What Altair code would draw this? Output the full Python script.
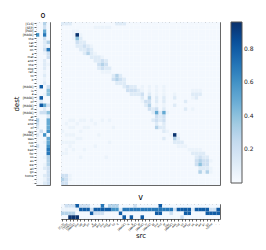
import altair as alt
import pandas as pd

tokens = ["[CLS]", "[SEP]", "[PAD]", "[MASK]", "the", "cat", "sat", "on", "a", "mat",
          "and", "the", "dog", "ran", "to", "it", ".", "[MASK]", "is", "a",
          "[MASK]", "of", "[MASK]", "in", "[MASK]", "at", "the", "end", "of", "day",
          "[MASK]", "was", "not", "so", "bad", "for", "us", "as", "we", "all",
          "go", "home", ".", "."]

# cell levels
level = {".": 0.02, "-": 0.06, "1": 0.12, "2": 0.2, "3": 0.3, "4": 0.4,
         "5": 0.5, "6": 0.6, "7": 0.7, "8": 0.8, "9": 0.95}

main_rows = [
    "111. .... .... ...1 11.. .... .... .... .... .... ....",
    ".... .... .--- --.. .... .... .... .... .... .... ....",
    "...- -... .... .... .... .... .... .... .... .... ....",
    "...- 9-.. .... .... .... .... .... .... .... .... ....",
    "...- 41.. .... .... .... .... .... .... .... .... ....",
    ".... 211. .... .... .... .... .... .... .... .... ....",
    ".... 1121 -... .... .... .... .... .... .... .... ....",
    ".... .112 1... .... .... .... .... .... .... .... ....",
    ".... ..13 1-.. .... .... .... .... .... .... .... ....",
    ".... .... 111- .... .... .... .... .... .... .... ....",
    ".... .... .112 1... .... .... .... .... .... .... ....",
    ".... .... ..23 2... .... .... .... .... .... .... ....",
    ".... .... ..12 11.. .... .... .... .... .... .... ....",
    ".... .... ...- --.. .... .... .... .... .... .... ....",
    ".... .... .... ..13 1... .... .... .... .... .... ....",
    ".... .... .... ..23 21.. .... .... .... .... .... ....",
    ".... .... .... ...1 11.. .... .... .... .... .... ....",
    ".... .... .... .... .121 1.-. -.-. -... .... .... ....",
    ".... .... .... .... ..22 21-. -.-. -... .... ---. ....",
    ".... .... .... .... ...1 112. 1.-. -..- .... 111. ....",
    ".... .... .... .... .... ..1. 3.1. 1..1 .... -1.. ....",
    ".... .... .... .... .... ..-2 2.1. 1... ..1. .... ....",
    ".... .... .... .... .... ...1 3.-. -..1 .... .... ....",
    ".... .... .... .... .... .... 212. 1... ..1. -... ....",
    ".... .... .... .... .... .... .151 5-.. .... .... ....",
    ".... .... .... .... .... .... ..21 2... .... .... ....",
    "..-- .--. -..- .-.. .... .... .121 2... .... .... ....",
    ".-.. -... .-.. .... .... .... ..1. 1... .... .... ....",
    "..-- ..-- .... ..-. .... .... ..31 1... .... .... ....",
    "-... .-.. .... .... .... .... .... 1-.. .... .... ....",
    ".--- .... ..-. .... .... .... .... ..-9 -... .... ....",
    ".... --.. .... .... .... .... .... 1..3 1... .... ....",
    "---- .... .... .-.. .... .... .... ...1 11.. .... ....",
    "..-. .... .-.. .... .... .... .... .... ---. .... ....",
    ".-.- ..-. .... .... .... .... .... .... ...- ---. ....",
    "--.. .... .... .... .... .... .... .... .... 1111 ....",
    ".... .-.. .... -... .... .... .... .... .... .121 1...",
    ".... .... .... .... .... .... .... .... .... .232 2-..",
    ".... .... .... .... .... .... .... .... .... .242 2...",
    ".... .... .... .... .... .... .... .... .... ..11 1-..",
    ".... .... .... .... .... .... .... .... .... ..3- 3-..",
    "22-. .... .... .... .... .... .... .... .... .... ....",
    "32-. .... .... .... .... .... .... .... .... .... ....",
    "22.. .... .... .... .... .... .... .... .... .... ....",
]

o_rows = ["..3.", "..2.", "..5.", "6.7.", "..2.", "..13", "..1-", "..27", "..-2", "...2",
          "..1.", "..1-", "..1.", "..-.", "..1.", "..-.", "..1.", ".8.2", "...4", "..-4",
          ".8..", ".1..", ".852", "..1.", ".224", "...1", "3..5", "2..5", "1..5", ".2.6",
          "1.6.", "...5", "..-5", "2..6", "...7", "...7", "..-3", "...3", "..-3", "..12",
          "...2", "..12", "..-2", "..12"]

v_rows = [
    ".222 8222 ...7 .333 .... 2... ...8 .... .... .... ....",
    "---- -888 2888 8866 1777 7777 7777 7772 8888 1888 8228",
    "3333 .... 8222 .... 8... .... ..88 ..2. ..88 .... 8888",
    "..99 9... .... .... .8.8 ..8. .... .... .2.. .... ....",
]

blues = ["#f7fbff", "#deebf7", "#c6dbef", "#9ecae1", "#6baed6",
         "#4292c6", "#2171b5", "#08519c", "#08306b"]
stops = [0.0, 0.12, 0.24, 0.36, 0.48, 0.6, 0.72, 0.84, 0.96]

main_df = pd.DataFrame([
    {"dest": r, "src": c, "w": level[ch]}
    for r, row in enumerate(main_rows)
    for c, ch in enumerate(row.replace(" ", ""))
])
o_df = pd.DataFrame([
    {"dest": r, "k": k, "w": level[ch]}
    for r, row in enumerate(o_rows)
    for k, ch in enumerate(row)
])
v_df = pd.DataFrame([
    {"k": k, "src": c, "w": level[ch]}
    for k, row in enumerate(v_rows)
    for c, ch in enumerate(row.replace(" ", ""))
])

tok_js = "[" + ",".join('"' + t + '"' for t in tokens) + "]"
label_expr = tok_js + "[datum.value]"

FONT = "DejaVu Sans"
color_scale = alt.Scale(domain=stops, range=blues)
legend = alt.Legend(title=None, values=[0.2, 0.4, 0.6, 0.8],
                    gradientLength=161, gradientThickness=11,
                    gradientStrokeColor="#555", gradientStrokeWidth=1,
                    labelFontSize=6, labelFont=FONT, labelColor="#222",
                    offset=10, orient="right")
color = alt.Color("w:Q", scale=color_scale, legend=legend)

main = alt.Chart(main_df).mark_rect().encode(
    x=alt.X("src:O", axis=None),
    y=alt.Y("dest:O", axis=None),
    color=color,
).properties(width=159, height=163)

o_chart = alt.Chart(o_df).mark_rect().encode(
    x=alt.X("k:O", axis=None),
    y=alt.Y("dest:O", axis=alt.Axis(title="dest", labelExpr=label_expr, labelFontSize=3,
                                    labelFont=FONT, tickSize=2, tickWidth=0.6, tickColor="#000",
                                    domain=False, labelPadding=1, titleFont=FONT,
                                    titleFontSize=7, titleFontWeight="normal",
                                    titlePadding=3, labelColor="#000")),
    color=color,
).properties(width=14, height=163,
             title=alt.TitleParams("o", fontSize=8, font=FONT, fontWeight="normal", offset=2))

blank = alt.Chart(pd.DataFrame({"a": [0]})).mark_point(opacity=0).encode(
    x=alt.X("a:Q", axis=None), y=alt.Y("a:Q", axis=None)
).properties(width=14, height=15, view=alt.ViewBackground(stroke="transparent"))

v_chart = alt.Chart(v_df).mark_rect().encode(
    x=alt.X("src:O", axis=alt.Axis(title="src", labelExpr=label_expr, labelFontSize=2.8,
                                   labelFont=FONT, labelAngle=-45, tickSize=2, tickWidth=0.6,
                                   tickColor="#000", domain=False, labelPadding=1,
                                   titleFont=FONT, titleFontSize=7, titleFontWeight="normal",
                                   titlePadding=0, labelColor="#000")),
    y=alt.Y("k:O", axis=None),
    color=color,
).properties(width=159, height=15,
             title=alt.TitleParams("v", fontSize=8, font=FONT, fontWeight="normal", offset=2))

chart = alt.concat(o_chart, main, blank, v_chart, columns=2,
                   spacing={"row": 19, "column": 11}, bounds="flush").resolve_scale(
    color="shared").resolve_legend(color="shared").configure_view(
    stroke="#666", strokeWidth=1
).properties(padding={"left": 3, "top": 3, "right": 0, "bottom": 0})

chart.save("out.html", embed_options={"renderer": "svg", "actions": False})
